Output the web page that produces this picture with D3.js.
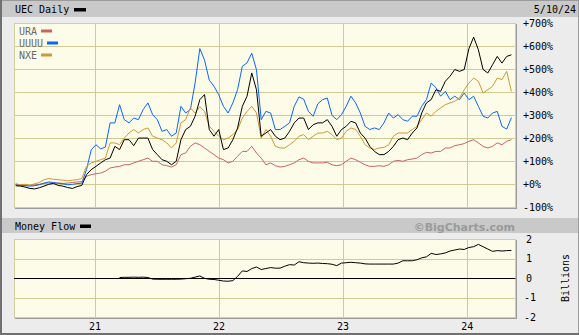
<!DOCTYPE html>
<html><head><meta charset="utf-8">
<script src="https://cdn.jsdelivr.net/npm/d3@7"></script>
<style>html,body{margin:0;padding:0;background:#ececec;}svg{display:block;}</style>
</head><body>
<script>
// ---- data (percent change since start; money flow in billions) ----
const startDate = new Date(2020, 4, 13);
const endDate = new Date(2024, 4, 10);
const seriesNames = ["URA", "UUUU", "NXE", "UEC"];
const uec = [-6,-8,-12,-18,-20,-15,-8,0,4,-5,-8,-14,-18,-10,-5,
 42,64,78,93,107,114,165,151,194,194,168,201,
 201,201,151,129,107,100,85,100,194,238,252,296,368,390,238,209,238,151,158,194,245,339,383,484,411,209,
 223,238,209,194,201,230,267,288,288,238,259,267,267,281,252,209,238,252,274,267,223,201,165,143,129,
 129,143,165,194,201,194,223,245,310,354,368,411,404,448,470,499,491,499,590,640,585,499,484,520,556,527,556,563];
const uuuu = [-2,-5,-6,-8,-6,-2,5,10,8,4,2,-2,0,3,5,
 64,150,172,154,162,267,267,346,281,267,288,281,
 325,354,303,281,230,238,209,223,339,310,325,440,590,540,453,426,390,339,310,354,412,513,528,570,498,281,
 317,310,238,238,252,267,339,380,370,317,296,350,368,375,300,281,303,339,383,354,310,252,238,245,238,
 267,310,288,303,281,274,296,296,339,368,440,420,383,404,368,383,368,397,368,383,339,296,288,310,317,252,240,290];
const nxe = [3,-2,0,-4,2,8,20,25,22,20,18,15,18,20,25,
 78,93,100,107,114,180,180,172,201,223,238,223,
 238,245,209,201,194,180,158,180,267,281,332,310,337,317,252,230,209,194,201,216,238,288,317,339,310,201,
 238,209,165,158,158,172,187,209,216,194,209,223,223,230,216,194,201,230,245,238,209,172,158,151,158,
 160,172,209,223,223,223,238,252,281,310,296,317,332,346,354,361,375,411,440,462,448,397,411,426,462,455,491,404];
const ura = [0,-3,-4,-5,-3,0,4,6,5,6,4,5,8,10,12,
 35,42,46,49,57,71,75,78,85,85,93,100,
 107,114,100,100,85,81,75,85,129,136,165,180,172,158,143,129,114,107,93,100,122,143,143,165,136,114,
 85,93,81,75,78,85,93,107,114,100,93,93,93,96,85,81,85,100,114,107,96,85,78,78,81,
 78,85,100,104,100,107,110,114,129,139,136,143,143,158,158,168,172,177,187,194,180,165,158,165,180,172,187,194];
const moneyFlow = [null,null,null,null,null,null,null,null,null,null,null,null,null,null,null,null,null,null,null,null,null,null,
 0.04,0.05,0.05,0.06,0.05,0.06,0.04,
 -0.04,-0.05,-0.05,-0.05,-0.05,-0.05,-0.04,-0.02,0.0,0.06,0.12,0.0,-0.05,-0.06,-0.1,-0.14,-0.15,-0.12,
 0.1,0.38,0.35,0.5,0.58,0.45,0.5,0.55,0.52,0.52,0.62,0.7,0.68,0.85,0.8,0.78,0.77,0.78,0.76,0.75,0.72,0.65,0.78,0.8,0.82,0.8,0.78,0.74,0.73,0.73,0.73,
 0.73,0.73,0.73,0.78,0.9,0.9,0.9,0.95,1.05,1.1,1.28,1.22,1.25,1.3,1.4,1.45,1.5,1.48,1.58,1.62,1.74,1.62,1.5,1.38,1.42,1.4,1.42,1.43];
const pctTicks = [700, 600, 500, 400, 300, 200, 100, 0, -100];
const pctLabels = ["+700%","+600%","+500%","+400%","+300%","+200%","+100%","+0%","-100%"];
const mfTicks = [2, 1, 0, -1, -2];
const yearTicks = [new Date(2021,0,1), new Date(2022,0,1), new Date(2023,0,1), new Date(2024,0,1)];
const yearLabels = ["21","22","23","24"];
const colors = {URA:"#c86464", UUUU:"#0a64ff", NXE:"#cc9933", UEC:"#000000"};

// ---- layout ----
const W = 579, H = 335;
const n = uec.length;
const dates = d3.range(n).map(i => new Date(+startDate + i * (endDate - startDate) / (n - 1)));

const svg = d3.select("body").append("svg").attr("width", W).attr("height", H);
const defs = svg.append("defs");
const pat = defs.append("pattern").attr("id","dots").attr("width",2).attr("height",2).attr("patternUnits","userSpaceOnUse");
pat.append("rect").attr("width",2).attr("height",2).attr("fill","#fefec4");
pat.append("rect").attr("x",0).attr("y",0).attr("width",1).attr("height",1).attr("fill","#ffffec");
pat.append("rect").attr("x",1).attr("y",1).attr("width",1).attr("height",1).attr("fill","#ffffe4");

svg.append("rect").attr("width",W).attr("height",H).attr("fill","#ececec");
// outer frame
svg.append("rect").attr("x",0.5).attr("y",0.5).attr("width",W-1).attr("height",H-1).attr("fill","none").attr("stroke","#9a9a9a");
svg.append("line").attr("x1",1).attr("x2",1).attr("y1",0).attr("y2",H).attr("stroke","#707070").attr("stroke-width",2);
svg.append("line").attr("x1",0).attr("x2",W).attr("y1",H-1).attr("y2",H-1).attr("stroke","#707070").attr("stroke-width",2);

const mono = "'DejaVu Sans Mono', monospace";

// header bars
svg.append("rect").attr("x",2).attr("y",1).attr("width",W-3).attr("height",16).attr("fill","#c9c9c9");
svg.append("rect").attr("x",2).attr("y",218).attr("width",W-3).attr("height",15).attr("fill","#c9c9c9");

const x = d3.scaleTime().domain([new Date(2020,4,8), new Date(2024,4,22)]).range([14, 515.5]);
const y = d3.scaleLinear().domain([-100, 700]).range([207.3, 23.3]);
const ym = d3.scaleLinear().domain([-2, 2]).range([317.3, 239.3]);
const px = v => Math.round(v) + 0.5;

function panel(top, bottom) {
  svg.append("rect").attr("x",14).attr("y",top).attr("width",501.5).attr("height",bottom-top).attr("fill","url(#dots)");
}
panel(23, 207.5);
panel(239, 317.5);

const gridCol = "#cfcb94";
// main grid
svg.append("g").selectAll("line").data(pctTicks.filter(t => t > -100 && t < 700)).join("line")
  .attr("x1",14).attr("x2",515.5).attr("y1",d=>px(y(d))).attr("y2",d=>px(y(d))).attr("stroke",gridCol);
svg.append("g").selectAll("line").data(yearTicks).join("line")
  .attr("x1",d=>px(x(d))).attr("x2",d=>px(x(d))).attr("y1",23).attr("y2",207.5).attr("stroke",gridCol);
// money flow grid
svg.append("g").selectAll("line").data([1,-1]).join("line")
  .attr("x1",14).attr("x2",515.5).attr("y1",d=>px(ym(d))).attr("y2",d=>px(ym(d))).attr("stroke",gridCol);
svg.append("g").selectAll("line").data(yearTicks).join("line")
  .attr("x1",d=>px(x(d))).attr("x2",d=>px(x(d))).attr("y1",239).attr("y2",317.5).attr("stroke",gridCol);

// panel borders
function border(top, bottom) {
  svg.append("rect").attr("x",14.5).attr("y",top+0.5).attr("width",501).attr("height",bottom-top-1).attr("fill","none").attr("stroke","#d2cf9c");
  svg.append("line").attr("x1",515.5+1).attr("x2",515.5+1).attr("y1",top+1).attr("y2",bottom+1).attr("stroke","#9c9c9c");
  svg.append("line").attr("x1",15).attr("x2",517).attr("y1",bottom+0.5).attr("y2",bottom+0.5).attr("stroke","#9c9c9c");
}
border(23, 208);
border(239, 318);

// series lines
const line = d3.line().x((d,i)=>x(dates[i])).y(d=>y(d));
[["URA",ura],["UUUU",uuuu],["NXE",nxe],["UEC",uec]].forEach(([name, vals]) => {
  svg.append("path").datum(vals).attr("d", line).attr("fill","none")
    .attr("stroke", colors[name]).attr("stroke-width", 1).attr("stroke-linejoin","round");
});

// money flow
svg.append("line").attr("x1",14).attr("x2",515.5).attr("y1",px(ym(0))).attr("y2",px(ym(0))).attr("stroke","#000");
const mfLine = d3.line().defined(d=>d!==null).x((d,i)=>x(dates[i])).y(d=>ym(d));
svg.append("path").datum(moneyFlow).attr("d", mfLine).attr("fill","none").attr("stroke","#000").attr("stroke-width",1);

// legend
const legend = [["URA",31,41],["UUUU",43,47],["NXE",55,41]];
legend.forEach(([name, ty, sx]) => {
  svg.append("text").attr("x",19).attr("y",ty+3.5).attr("font-family",mono).attr("font-size",10).attr("fill","#6a6a6a").text(name);
  svg.append("rect").attr("x",sx).attr("y",ty-1.5).attr("width",11).attr("height",3).attr("fill",colors[name]);
});

// headers
svg.append("text").attr("x",15).attr("y",13).attr("font-family",mono).attr("font-size",10).attr("fill","#000").text("UEC Daily");
svg.append("rect").attr("x",74).attr("y",8).attr("width",12).attr("height",3.5).attr("fill","#000");
svg.append("text").attr("x",576).attr("y",13).attr("text-anchor","end").attr("font-family",mono).attr("font-size",10).attr("fill","#000").text("5/10/24");
svg.append("text").attr("x",15).attr("y",229.5).attr("font-family",mono).attr("font-size",10).attr("fill","#000").text("Money Flow");
svg.append("rect").attr("x",80).attr("y",224.5).attr("width",11).attr("height",3.5).attr("fill","#000");
svg.append("text").attr("x",515).attr("y",230.5).attr("text-anchor","end").attr("font-family","'DejaVu Sans', sans-serif")
  .attr("font-weight","bold").attr("font-size",11).attr("fill","#9a9a9a").text("\u00A9BigCharts.com");

// right axis labels
svg.append("g").selectAll("text").data(pctTicks).join("text")
  .attr("x",523).attr("y",d=>y(d)+3.5).attr("font-family",mono).attr("font-size",10).attr("fill","#000")
  .text((d,i)=>pctLabels[i]);
svg.append("g").selectAll("text").data(mfTicks).join("text")
  .attr("x",d=>d<0?524:526).attr("y",d=>ym(d)+3.5).attr("font-family",mono).attr("font-size",10).attr("fill","#000")
  .text(d=>String(d));
svg.append("text").attr("transform","translate(569,278) rotate(-90)").attr("text-anchor","middle")
  .attr("font-family",mono).attr("font-size",10).attr("fill","#000").text("Billions");

// x labels
svg.append("g").selectAll("text").data(yearTicks).join("text")
  .attr("x",d=>x(d)).attr("y",330).attr("text-anchor","middle").attr("font-family",mono).attr("font-size",10).attr("fill","#000")
  .text((d,i)=>yearLabels[i]);
</script>
</body></html>
